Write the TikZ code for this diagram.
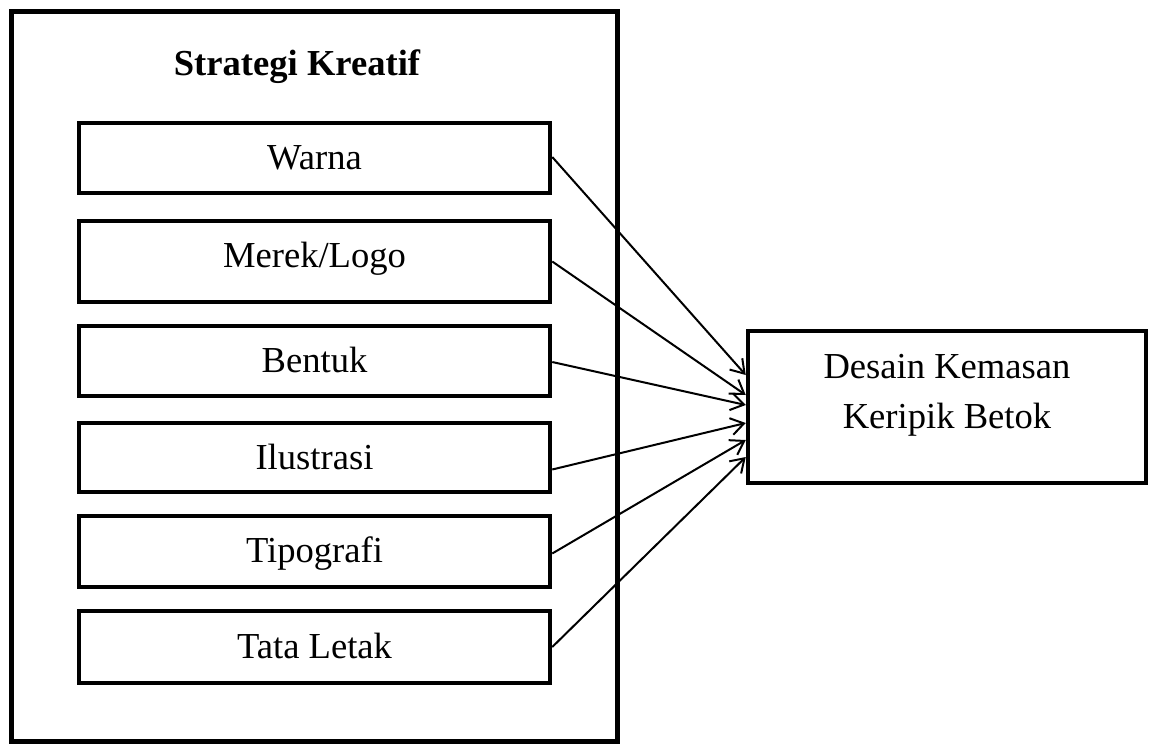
\documentclass[tikz,border=0pt]{standalone}
\usepackage{fontspec}
\setmainfont{Liberation Serif}
\usetikzlibrary{arrows.meta}
\begin{document}
\begin{tikzpicture}[x=1pt,y=-1pt,
  outerbox/.style={draw,line width=5pt},
  itembox/.style={draw,line width=4.5pt,rectangle,inner sep=0pt,minimum width=471pt},
  resbox/.style={draw,line width=4.5pt,rectangle,inner sep=0pt},
  lbl/.style={inner sep=0pt,anchor=base,font=\fontsize{36.6pt}{44pt}\selectfont},
  ttl/.style={inner sep=0pt,anchor=base,font=\fontsize{36.6pt}{44pt}\selectfont\bfseries},
  conn/.style={line width=2pt,-{Straight Barb[length=13pt,width=17pt,line width=2pt]}}]
\useasboundingbox (0,0) rectangle (1154,747);
% outer frame
\node[outerbox,inner sep=0pt,minimum width=606pt,minimum height=730pt] (frame) at (314,376) {};
\node[ttl] (title) at (297,75) {Strategi Kreatif};
% item boxes
\node[itembox,minimum height=70pt] (wa) at (314.5,158) {};
\node[lbl] (twa) at (314.5,169) {Warna};
\node[itembox,minimum height=81pt] (me) at (314.5,261.5) {};
\node[lbl] (tme) at (314.5,267) {Merek/Logo};
\node[itembox,minimum height=70pt] (be) at (314.5,361) {};
\node[lbl] (tbe) at (314.5,372) {Bentuk};
\node[itembox,minimum height=69pt] (il) at (314.5,457.5) {};
\node[lbl] (til) at (314.5,469) {Ilustrasi};
\node[itembox,minimum height=71pt] (ti) at (314.5,551.5) {};
\node[lbl] (tti) at (314.5,562) {Tipografi};
\node[itembox,minimum height=72pt] (ta) at (314.5,647) {};
\node[lbl] (tta) at (314.5,658) {Tata Letak};
% result box
\node[resbox,minimum width=398pt,minimum height=152pt] (db) at (947,407) {};
\node[lbl] (tdb1) at (947,378) {Desain Kemasan};
\node[lbl] (tdb2) at (947,428) {Keripik Betok};
% connectors
\draw[conn] ([yshift=1pt]wa.east) -- ([yshift=32pt]db.west);
\draw[conn] (me.east) -- ([yshift=12pt]db.west);
\draw[conn] ([yshift=-1pt]be.east) -- ([yshift=2pt]db.west);
\draw[conn] ([yshift=-12pt]il.east) -- ([yshift=-16pt]db.west);
\draw[conn] ([yshift=-2pt]ti.east) -- ([yshift=-33pt]db.west);
\draw[conn] (ta.east) -- ([yshift=-50pt]db.west);
\end{tikzpicture}
\end{document}
